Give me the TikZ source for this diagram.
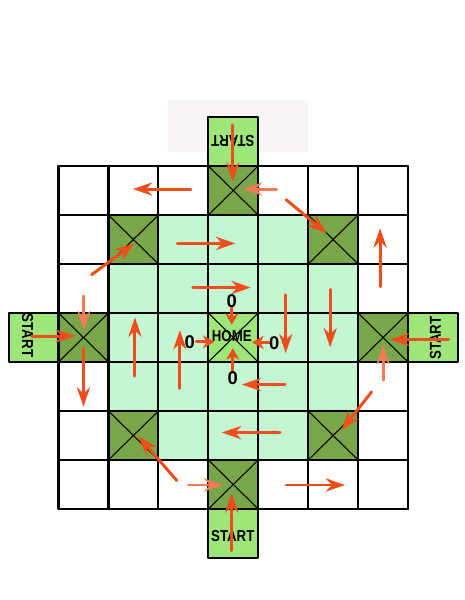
\documentclass[tikz,border=0pt]{standalone}
\usepackage{fontspec}
\setmainfont{Liberation Sans}
\newfontfamily\boardfont[FakeStretch=0.84]{Liberation Sans}
\usetikzlibrary{arrows.meta}
\definecolor{darkcell}{RGB}{121,166,72}
\definecolor{mintcell}{RGB}{196,246,212}
\definecolor{startcell}{RGB}{158,230,122}
\definecolor{arrowred}{RGB}{238,78,28}
\definecolor{paper}{RGB}{249,244,245}
\begin{document}
\begin{tikzpicture}[x=1cm,y=0.9813cm,line cap=round,line join=round,
    move/.style={draw=arrowred,line width=1.7pt,-{Stealth[length=11pt,width=7.5pt,inset=3.5pt]}},
    pale/.style={move,draw=arrowred!75},
    short/.style={draw=arrowred,line width=1.7pt,-{Stealth[length=6.5pt,width=7.5pt,inset=2pt]}},
    cross/.style={line width=0.6pt},
    word/.style={font=\boardfont\fontsize{9}{10}\selectfont\bfseries,inner sep=0pt},
    zero/.style={font=\fontsize{10.5}{12}\selectfont\bfseries,inner sep=0pt}]
        \useasboundingbox (-1.172,-1.857) rectangle (8.127,10.388);
        \fill[paper] (2.19,7.29) rectangle (5.0,8.35);
        \fill[mintcell] (1,1) rectangle (6,6);
        \foreach \c/\r in {1/1,5/1,1/5,5/5,3/0,3/6,0/3,6/3}
          \fill[darkcell] (\c,\r) rectangle ++(1,1);
        \fill[startcell] (3,3) rectangle (4,4);
        \foreach \c/\r in {3/7,3/-1,-1/3,7/3}
          \draw[fill=startcell,line width=1.1pt] (\c,\r) rectangle ++(1,1);
        \foreach \i in {0,...,7}
          \draw[line width=1.2pt] (\i,0) -- (\i,7) (0,\i) -- (7,\i);
        \foreach \c/\r in {1/1,5/1,1/5,5/5,3/0,3/6,0/3,6/3,3/3}
          \draw[cross] (\c,\r) -- ++(1,1) (\c+1,\r) -- ++(-1,1);
        
        \node[word,rotate=180] (topstart) at (3.49,7.51) {START};
        \node[word] (bottomstart) at (3.49,-0.55) {START};
        \node[word,rotate=-90] (leftstart) at (-0.62,3.54) {START};
        \node[word,rotate=90] (rightstart) at (7.55,3.49) {START};
        \node[word] (home) at (3.47,3.52) {HOME};
        
        \draw[move] (3.49,7.84) -- (3.49,6.68);
        \draw[move] (2.65,6.53) -- (1.49,6.53);
        \draw[pale] (4.37,6.53) -- (3.69,6.53);
        \draw[move] (4.56,6.31) -- (5.37,5.63);
        \draw[move] (2.38,5.42) -- (3.54,5.42);
        \draw[move] (6.44,4.54) -- (6.44,5.73);
        \draw[move] (0.66,4.78) -- (1.52,5.42);
        \draw[move] (2.69,4.52) -- (3.85,4.52);
        \draw[short] (3.47,4.13) -- (3.47,3.76);
        \draw[move] (4.55,4.37) -- (4.55,3.18);
        \draw[move] (5.44,4.48) -- (5.44,3.30);
        \draw[move] (-0.54,3.53) -- (0.33,3.53);
        \draw[pale] (0.51,4.35) -- (0.51,3.65);
        \draw[move] (0.50,3.28) -- (0.50,2.09);
        \draw[move] (1.53,2.71) -- (1.53,3.91);
        \draw[move] (2.43,2.46) -- (2.43,3.65);
        \draw[short] (2.76,3.41) -- (3.12,3.41);
        \draw[short] (4.22,3.40) -- (3.88,3.40);
        \draw[short] (3.49,2.80) -- (3.49,3.28);
        \draw[move] (4.54,2.54) -- (3.67,2.54);
        \draw[move] (7.81,3.46) -- (6.64,3.46);
        \draw[pale] (6.50,2.63) -- (6.50,3.35);
        \draw[move] (6.27,2.39) -- (5.67,1.61);
        \draw[move] (4.44,1.56) -- (3.27,1.56);
        \draw[move] (2.37,0.58) -- (1.60,1.48);
        \draw[pale] (2.60,0.49) -- (3.30,0.49);
        \draw[move] (3.47,-0.85) -- (3.47,0.32);
        \draw[move] (4.56,0.49) -- (5.74,0.49);
        
        \node[zero] (zerotop) at (3.47,4.25) {0};
        \node[zero] (zeroleft) at (2.63,3.41) {0};
        \node[zero] (zeroright) at (4.32,3.38) {0};
        \node[zero] (zerobottom) at (3.49,2.67) {0};
      \end{tikzpicture}
\end{document}
